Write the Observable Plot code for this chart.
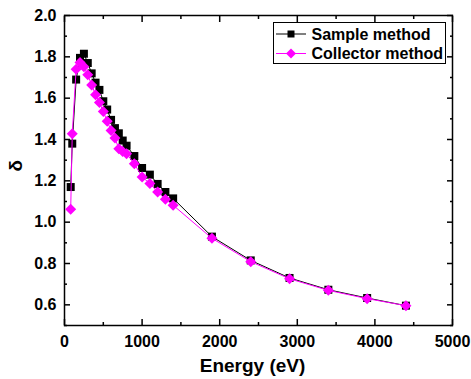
<!DOCTYPE html>
<html>
<head>
<meta charset="utf-8">
<script src="https://cdn.jsdelivr.net/npm/d3@7"></script>
<script src="https://cdn.jsdelivr.net/npm/@observablehq/plot@0.6"></script>
<style>
  html, body { margin: 0; padding: 0; background: #fff; }
  #wrap { position: relative; width: 471px; height: 379px; font-family: "Liberation Sans", Arial, sans-serif; }
  #legend { position: absolute; left: 273px; top: 22px; }
</style>
</head>
<body>
<div id="wrap"></div>
<script>
const energy = [80,100,150,200,250,300,350,400,450,500,550,600,650,700,750,800,900,1000,1100,1200,1300,1400,1900,2400,2900,3400,3900,4400];
const deltaSample = [1.17,1.38,1.69,1.795,1.815,1.77,1.72,1.675,1.64,1.585,1.545,1.495,1.455,1.43,1.395,1.37,1.32,1.262,1.23,1.185,1.146,1.115,0.93,0.815,0.73,0.673,0.633,0.596];
const deltaCollector = [1.063,1.428,1.74,1.772,1.752,1.713,1.664,1.616,1.579,1.535,1.488,1.444,1.407,1.355,1.342,1.331,1.283,1.219,1.187,1.146,1.111,1.082,0.922,0.809,0.726,0.670,0.630,0.596];
const seriesNames = ["Sample method", "Collector method"];
const seriesColors = ["#000000", "#ff00ff"];
const xMajor = [0,1000,2000,3000,4000,5000];
const xMinor = [500,1500,2500,3500,4500];
const yMajor = [0.6,0.8,1.0,1.2,1.4,1.6,1.8,2.0];
const yMinor = [0.5,0.7,0.9,1.1,1.3,1.5,1.7,1.9];

const sample = energy.map((e, i) => ({e, d: deltaSample[i]}));
const collector = energy.map((e, i) => ({e, d: deltaCollector[i]}));

const squareSym = {draw(ctx, size) { const r = Math.sqrt(size / Math.PI); ctx.moveTo(-r, -r); ctx.lineTo(r, -r); ctx.lineTo(r, r); ctx.lineTo(-r, r); ctx.closePath(); }};
const diamondSym = {draw(ctx, size) { const r = Math.sqrt(size / Math.PI); ctx.moveTo(0, -r); ctx.lineTo(r, 0); ctx.lineTo(0, r); ctx.lineTo(-r, 0); ctx.closePath(); }};

const font = {fontSize: 16, fontWeight: "bold"};
const blank = () => "";

const chart = Plot.plot({
  width: 471,
  height: 379,
  marginLeft: 64,
  marginRight: 19,
  marginTop: 15,
  marginBottom: 54,
  style: {fontFamily: "Liberation Sans, Arial, sans-serif", color: "#000", background: "#fff"},
  x: {domain: [0, 5000]},
  y: {domain: [0.5, 2.0]},
  marks: [
    Plot.axisX({anchor: "bottom", ticks: xMajor, tickSize: -6, tickPadding: 16, tickFormat: d3.format("d"), label: null, ...font, strokeWidth: 1.5}),
    Plot.axisX({anchor: "bottom", ticks: xMinor, tickSize: -3, tickFormat: blank, label: null, strokeWidth: 1.5}),
    Plot.axisX({anchor: "top", ticks: xMajor, tickSize: -6, tickFormat: blank, label: null, strokeWidth: 1.5}),
    Plot.axisX({anchor: "top", ticks: xMinor, tickSize: -3, tickFormat: blank, label: null, strokeWidth: 1.5}),
    Plot.axisY({anchor: "left", ticks: yMajor, tickSize: -6, tickPadding: 14, tickFormat: d3.format(".1f"), label: null, ...font, strokeWidth: 1.5}),
    Plot.axisY({anchor: "left", ticks: yMinor, tickSize: -3, tickFormat: blank, label: null, strokeWidth: 1.5}),
    Plot.axisY({anchor: "right", ticks: yMajor, tickSize: -6, tickFormat: blank, label: null, strokeWidth: 1.5}),
    Plot.axisY({anchor: "right", ticks: yMinor, tickSize: -3, tickFormat: blank, label: null, strokeWidth: 1.5}),
    Plot.frame({stroke: "#000", strokeWidth: 1.5}),
    Plot.line(sample, {x: "e", y: "d", stroke: seriesColors[0], strokeWidth: 1}),
    Plot.dot(sample, {x: "e", y: "d", symbol: squareSym, r: 4, fill: seriesColors[0], stroke: "none"}),
    Plot.line(collector, {x: "e", y: "d", stroke: seriesColors[1], strokeWidth: 1}),
    Plot.dot(collector, {x: "e", y: "d", symbol: diamondSym, r: 5.5, fill: seriesColors[1], stroke: "none"}),
    Plot.text(["Energy (eV)"], {frameAnchor: "bottom", dy: 40, dx: -6, fontSize: 19, fontWeight: "bold", lineAnchor: "middle"}),
    Plot.text(["δ"], {frameAnchor: "left", dx: -49, dy: 1, rotate: -90, fontSize: 19, fontWeight: "bold", lineAnchor: "middle"})
  ]
});

const wrap = document.getElementById("wrap");
wrap.appendChild(chart);

// legend
const ns = "http://www.w3.org/2000/svg";
const lg = document.createElementNS(ns, "svg");
lg.setAttribute("id", "legend");
lg.setAttribute("width", 175);
lg.setAttribute("height", 43);
lg.style.position = "absolute";
lg.style.left = "273px";
lg.style.top = "22px";
const box = document.createElementNS(ns, "rect");
box.setAttribute("x", 0.5); box.setAttribute("y", 0.5);
box.setAttribute("width", 172); box.setAttribute("height", 41);
box.setAttribute("fill", "#fff"); box.setAttribute("stroke", "#000"); box.setAttribute("stroke-width", 1);
lg.appendChild(box);
seriesNames.forEach((name, i) => {
  const cy = 12 + i * 19.5;
  const ln = document.createElementNS(ns, "line");
  ln.setAttribute("x1", 3); ln.setAttribute("x2", 33); ln.setAttribute("y1", cy); ln.setAttribute("y2", cy);
  ln.setAttribute("stroke", seriesColors[i]); ln.setAttribute("stroke-width", 1);
  lg.appendChild(ln);
  const m = document.createElementNS(ns, "path");
  const cx = 18;
  m.setAttribute("d", i === 0
    ? `M${cx-3.5},${cy-3.5}h7v7h-7z`
    : `M${cx},${cy-5}L${cx+5},${cy}L${cx},${cy+5}L${cx-5},${cy}z`);
  m.setAttribute("fill", seriesColors[i]);
  lg.appendChild(m);
  const t = document.createElementNS(ns, "text");
  t.setAttribute("x", 38.5); t.setAttribute("y", cy + 5.5);
  t.setAttribute("font-size", 16); t.setAttribute("font-weight", "bold");
  t.setAttribute("font-family", "Liberation Sans, Arial, sans-serif");
  t.textContent = name;
  lg.appendChild(t);
});
wrap.appendChild(lg);
</script>
</body>
</html>
